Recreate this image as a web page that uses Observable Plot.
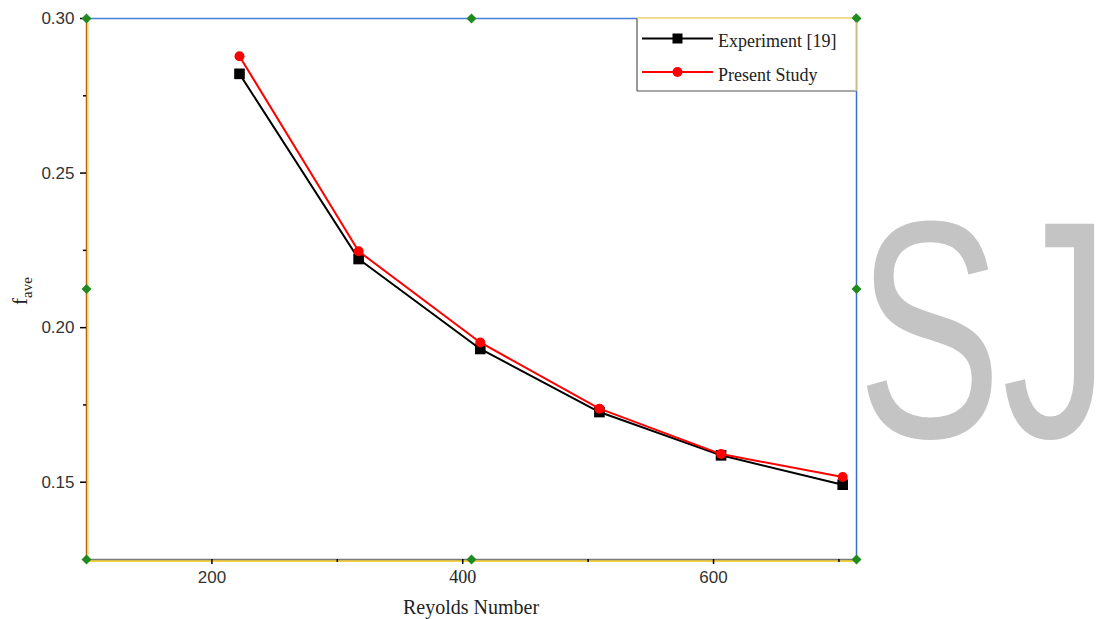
<!DOCTYPE html>
<html><head><meta charset="utf-8">
<script src="https://cdn.jsdelivr.net/npm/d3@7"></script>
<script src="https://cdn.jsdelivr.net/npm/@observablehq/plot@0.6"></script>
<style>
html,body{margin:0;padding:0;background:#fff;width:1118px;height:619px;overflow:hidden}
#chart{position:relative;width:1118px;height:619px;background:#fff}
#chart svg{overflow:hidden;display:block}
</style></head><body><div id="chart"></div>
<script>
// ---- data ----
const reynolds   = [222, 317, 414, 509, 606, 703];
const experiment = [0.2821, 0.2222, 0.1931, 0.1727, 0.1587, 0.1492];
const present    = [0.2878, 0.2247, 0.1952, 0.1738, 0.1591, 0.1517];
const seriesNames = ["Experiment [19]", "Present Study"];
const xTitle = "Reyolds Number";
const yTitleMain = "f";
const yTitleSub = "ave";
const watermark = "SJ";
const xDomain = [100, 714];
const yDomain = [0.125, 0.30];
const xMajorTicks = [200, 400, 600];
const xMinorTicks = [300, 500, 700];
const yMajorTicks = [0.15, 0.20, 0.25, 0.30];
const yMinorTicks = [0.175, 0.225, 0.275];

const expData = reynolds.map((r, i) => ({re: r, f: experiment[i]}));
const preData = reynolds.map((r, i) => ({re: r, f: present[i]}));
const hx = [xDomain[0], (xDomain[0] + xDomain[1]) / 2, xDomain[1]];
const hy = [yDomain[0], (yDomain[0] + yDomain[1]) / 2, yDomain[1]];
const handles = [];
hx.forEach((x, i) => hy.forEach((y, j) => { if (!(i === 1 && j === 1)) handles.push({x, y}); }));

const sans = "'Liberation Sans', Arial, sans-serif";
const serif = "'Liberation Serif', 'Times New Roman', serif";

const plot = Plot.plot({
  width: 1118, height: 619,
  marginLeft: 86, marginRight: 262, marginTop: 18, marginBottom: 60,
  x: {domain: xDomain},
  y: {domain: yDomain},
  style: {fontFamily: sans, fontSize: "17px", color: "#333", background: "transparent"},
  marks: [
    // frame
    Plot.ruleY([yDomain[1]], {stroke: "#4a7fd6", strokeWidth: 1.5}),
    Plot.ruleX([xDomain[1]], {stroke: "#3b6fd0", strokeWidth: 1.5}),
    Plot.ruleY([yDomain[0]], {stroke: "#f2c400", strokeWidth: 1.5, dy: 1.5}),
    Plot.ruleY([yDomain[0]], {stroke: "#7a7a7a", strokeWidth: 1.5}),
    Plot.ruleX([xDomain[0]], {stroke: "#f5d060", strokeWidth: 1, dx: 1.5}),
    Plot.ruleX([xDomain[0]], {stroke: "#b8660c", strokeWidth: 1.5}),
    // axes
    Plot.axisY({ticks: yMajorTicks, tickSize: 6, tickPadding: 6, tickFormat: ".2f", label: null,
                stroke: "#000", strokeWidth: 1.5, fill: "#333"}),
    Plot.axisY({ticks: yMinorTicks, tickSize: 3, tickFormat: () => "", label: null,
                stroke: "#000", strokeWidth: 1.5}),
    Plot.axisX({ticks: xMajorTicks.filter(d => d !== 400), tickSize: 5, tickPadding: 6, tickFormat: "d",
                label: null, stroke: "#000", strokeWidth: 1.5, fill: "#333"}),
    Plot.axisX({ticks: xMajorTicks.filter(d => d === 400), tickSize: 5, tickPadding: 6, tickFormat: "d",
                label: null, stroke: "#000", strokeWidth: 1.5, fill: "#222", fontFamily: serif, fontSize: 18}),
    Plot.axisX({ticks: xMinorTicks, tickSize: 3, tickFormat: () => "", label: null,
                stroke: "#000", strokeWidth: 1.5}),
    // series
    Plot.line(expData, {x: "re", y: "f", stroke: "#000", strokeWidth: 2}),
    Plot.dot(expData, {x: "re", y: "f", symbol: "square", r: 6, fill: "#000"}),
    Plot.line(preData, {x: "re", y: "f", stroke: "#f00", strokeWidth: 2}),
    Plot.dot(preData, {x: "re", y: "f", symbol: "circle", r: 5, fill: "#f00"}),
    // selection handles
    Plot.dot(handles, {x: "x", y: "y", symbol: "diamond2", r: 4.5, fill: "#1f8a1f"})
  ]
});
document.getElementById("chart").appendChild(plot);

const svg = d3.select(plot);

// watermark, right of the frame (horizontally condensed)
svg.append("text").attr("transform", "translate(857,437) scale(0.7,1)").attr("x", 0).attr("y", 0)
  .attr("text-anchor", "start").attr("font-family", sans).attr("font-size", 310)
  .attr("fill", "#c4c4c4").text(watermark);

// legend
const lg = svg.append("g").attr("text-anchor", "start");
lg.append("rect").attr("x", 637).attr("y", 18).attr("width", 219).attr("height", 73).attr("fill", "#fff");
lg.append("line").attr("x1", 637).attr("x2", 637).attr("y1", 18).attr("y2", 91).attr("stroke", "#555").attr("stroke-width", 1.2);
lg.append("line").attr("x1", 637).attr("x2", 856).attr("y1", 91).attr("y2", 91).attr("stroke", "#555").attr("stroke-width", 1.2);
lg.append("line").attr("x1", 637).attr("x2", 856).attr("y1", 18).attr("y2", 18).attr("stroke", "#f0d870").attr("stroke-width", 1.5);
lg.append("line").attr("x1", 856).attr("x2", 856).attr("y1", 18).attr("y2", 91).attr("stroke", "#f0d870").attr("stroke-width", 1.5);
const legendItems = [
  {name: seriesNames[0], color: "#000", sym: "square"},
  {name: seriesNames[1], color: "#f00", sym: "circle"}
];
legendItems.forEach((it, i) => {
  const y = 38.5 + i * 33.5;
  lg.append("line").attr("x1", 642).attr("x2", 713).attr("y1", y).attr("y2", y)
    .attr("stroke", it.color).attr("stroke-width", 2);
  if (it.sym === "square") {
    lg.append("rect").attr("x", 672.5).attr("y", y - 5).attr("width", 10).attr("height", 10).attr("fill", it.color);
  } else {
    lg.append("circle").attr("cx", 677.5).attr("cy", y).attr("r", 5).attr("fill", it.color);
  }
  lg.append("text").attr("x", 718).attr("y", y + 8.5).attr("text-anchor", "start")
    .attr("font-family", serif).attr("font-size", 18)
    .attr("fill", "#222").text(it.name);
});
// top-right handle above legend
lg.append("path").attr("d", "M856,13.5L860.5,18L856,22.5L851.5,18Z").attr("fill", "#1f8a1f");

// axis titles
const yt = svg.append("text").attr("transform", "translate(27,305) rotate(-90)").attr("text-anchor", "start")
  .attr("font-family", serif).attr("fill", "#222").attr("font-size", 21);
yt.append("tspan").text(yTitleMain);
yt.append("tspan").attr("dy", 5).attr("font-size", 15).text(yTitleSub);

svg.append("text").attr("x", 471).attr("y", 614).attr("text-anchor", "middle")
  .attr("font-family", serif).attr("font-size", 20).attr("fill", "#222").text(xTitle);
</script></body></html>
